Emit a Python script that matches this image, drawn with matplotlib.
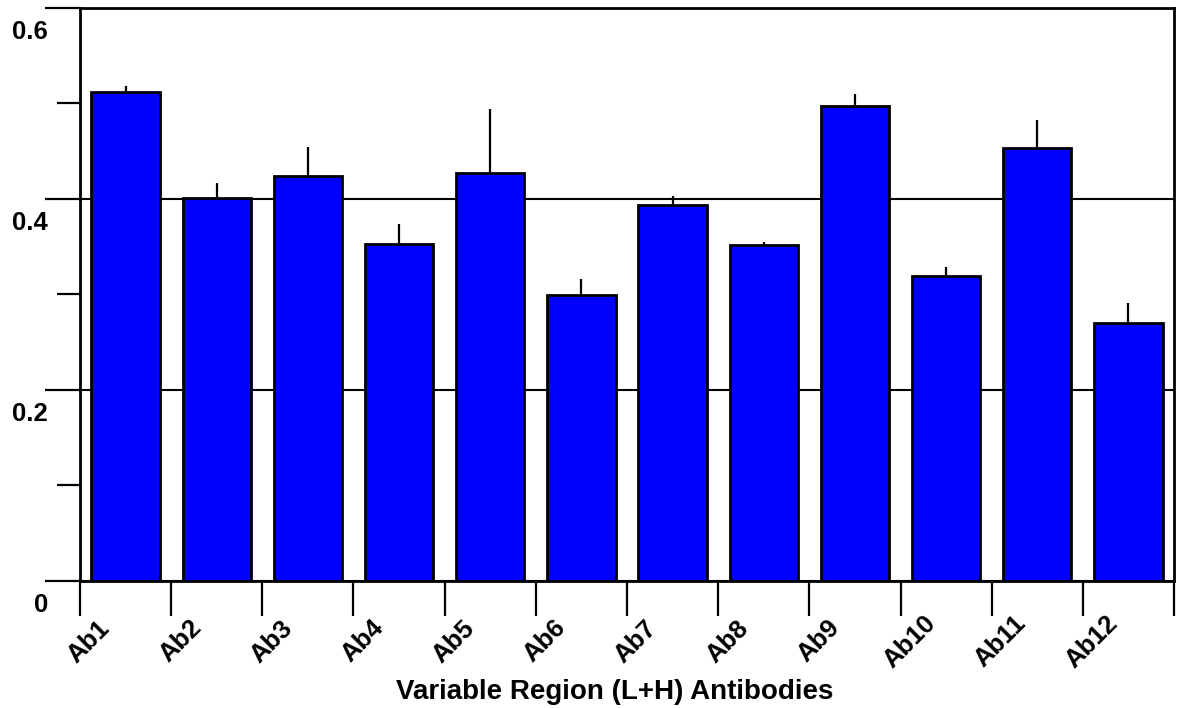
import numpy as np
import matplotlib
matplotlib.use('Agg')
import matplotlib.pyplot as plt
from matplotlib.ticker import MultipleLocator
from matplotlib.transforms import ScaledTranslation

plt.rcParams['font.family'] = ['Liberation Sans', 'DejaVu Sans']

antibodies = ['Ab1', 'Ab2', 'Ab3', 'Ab4', 'Ab5', 'Ab6',
              'Ab7', 'Ab8', 'Ab9', 'Ab10', 'Ab11', 'Ab12']
values = [0.512, 0.401, 0.424, 0.353, 0.427, 0.299,
          0.393, 0.352, 0.497, 0.319, 0.453, 0.270]
errors = [0.006, 0.015, 0.030, 0.020, 0.067, 0.017,
          0.010, 0.003, 0.013, 0.010, 0.029, 0.021]

fig = plt.figure(figsize=(11.77, 7.08), dpi=100)
ax = fig.add_axes([80/1177, 1 - 580.7/708, 1094/1177, 573/708])

x = np.arange(len(antibodies))
low = np.zeros(len(errors))
ax.bar(x, values, width=0.75, color='#0000ff', edgecolor='black', linewidth=2,
       yerr=[low, errors], error_kw=dict(ecolor='black', elinewidth=1.6, capsize=0),
       zorder=3)

ax.set_xlim(-0.5, len(antibodies) - 0.5)
ax.set_ylim(0, 0.6)

# ticks on category boundaries, labels hang off the left one
ax.set_xticks(np.arange(len(antibodies) + 1) - 0.5)
ax.set_xticklabels(antibodies + [''], rotation=45, ha='center', va='center',
                   rotation_mode='anchor', fontsize=18.5, fontweight='bold')
ax.tick_params(axis='x', direction='out', length=25.2, width=1.6, pad=18.5)
dx = ScaledTranslation(9/100, 0, fig.dpi_scale_trans)
for lab in ax.get_xticklabels():
    lab.set_transform(lab.get_transform() + dx)

ax.set_yticks([0, 0.2, 0.4, 0.6])
ax.set_yticklabels(['0', '0.2', '0.4', '0.6'], fontsize=18.5, fontweight='bold')
ax.yaxis.set_minor_locator(MultipleLocator(0.1))
ax.tick_params(axis='y', which='major', direction='out', length=25.2, width=1.6, pad=-2.2)
ax.tick_params(axis='y', which='minor', direction='out', length=16.6, width=1.6)
dy = ScaledTranslation(0, -22/100, fig.dpi_scale_trans)
for lab in ax.get_yticklabels():
    lab.set_transform(lab.get_transform() + dy)

ax.yaxis.grid(True, color='black', linewidth=1.5)
ax.set_axisbelow(True)
for s in ax.spines.values():
    s.set_linewidth(2)

ax.set_xlabel('Variable Region (L+H) Antibodies', fontsize=20, fontweight='bold')
ax.xaxis.set_label_coords(0.489, -0.194)
ax.xaxis.label.set_va('center')

fig.savefig('out.png', dpi=100)
